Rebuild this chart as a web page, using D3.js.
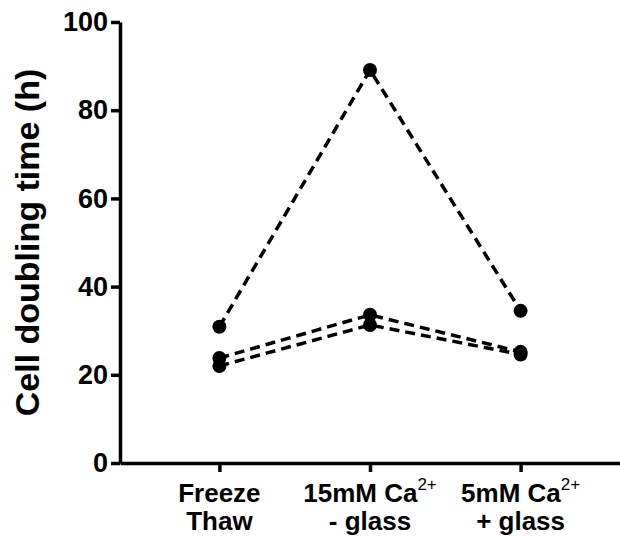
<!DOCTYPE html>
<html>
<head>
<meta charset="utf-8">
<script src="https://cdn.jsdelivr.net/npm/d3@7"></script>
<style>
body { margin: 0; background: #fff; }
svg text { font-family: "Liberation Sans", Arial, sans-serif; font-weight: bold; }
</style>
</head>
<body>
<div id="chart"></div>
<script>
// categories (line1, line2, superscript on line1)
var categories = ["ft", "ca15", "ca5"];
var catLine1 = ["Freeze", "15mM Ca", "5mM Ca"];
var catSup = ["", "2+", "2+"];
var catLine2 = ["Thaw", "- glass", "+ glass"];

// doubling times (h), one array per replicate
var rep1 = [30.9, 89.1, 34.5];
var rep2 = [23.8, 33.6, 25.2];
var rep3 = [22.0, 31.3, 24.6];

var yTicks = [0, 20, 40, 60, 80, 100];

var width = 620, height = 538;

var svg = d3.select("#chart").append("svg")
    .attr("width", width)
    .attr("height", height);

var xScale = d3.scalePoint().domain(categories).range([120, 620]).padding(0.66);
var yScale = d3.scaleLinear().domain([0, 100]).range([463, 22]);

// lines + dots
var lineGen = d3.line()
    .x(function (d, i) { return xScale(categories[i]); })
    .y(function (d) { return yScale(d); });

[rep1, rep2, rep3].forEach(function (s) {
    svg.append("path")
        .attr("d", lineGen(s))
        .attr("fill", "none")
        .attr("stroke", "#000")
        .attr("stroke-width", 3.5)
        .attr("stroke-dasharray", "10,6");
});

[rep1, rep2, rep3].forEach(function (s) {
    svg.selectAll(null).data(s).enter().append("circle")
        .attr("cx", function (d, i) { return xScale(categories[i]); })
        .attr("cy", function (d) { return yScale(d); })
        .attr("r", 7)
        .attr("fill", "#000");
});

// y axis
var yAxis = svg.append("g")
    .attr("transform", "translate(120,0)")
    .call(d3.axisLeft(yScale).tickValues(yTicks).tickSize(9).tickSizeOuter(0).tickPadding(3));
yAxis.select(".domain").attr("stroke-width", 3.5);
yAxis.selectAll(".tick line").attr("stroke-width", 3.5);
yAxis.selectAll(".tick text")
    .attr("font-size", 27)
    .attr("font-family", "Liberation Sans, Arial, sans-serif")
    .attr("fill", "#000");

// x axis
var xAxis = svg.append("g")
    .attr("transform", "translate(0,463)")
    .call(d3.axisBottom(xScale).tickSize(9).tickSizeOuter(0).tickFormat(""));
xAxis.select(".domain").attr("stroke-width", 3.5);
xAxis.selectAll(".tick line").attr("stroke-width", 3.5);

// x tick labels, two lines with superscript
categories.forEach(function (c, i) {
    var t = svg.append("text")
        .attr("x", xScale(c))
        .attr("y", 502)
        .attr("text-anchor", "middle")
        .attr("font-size", 26);
    t.append("tspan").text(catLine1[i]);
    if (catSup[i]) {
        t.append("tspan").text(catSup[i])
            .attr("font-size", 17)
            .attr("font-weight", "normal")
            .attr("dy", -12);
    }
    svg.append("text")
        .attr("x", xScale(c))
        .attr("y", 530)
        .attr("text-anchor", "middle")
        .attr("font-size", 26)
        .text(catLine2[i]);
});

// y label
svg.append("text")
    .attr("transform", "translate(39," + yScale(50) + ") rotate(-90)")
    .attr("text-anchor", "middle")
    .attr("font-size", 34)
    .text("Cell doubling time (h)");
</script>
</body>
</html>
